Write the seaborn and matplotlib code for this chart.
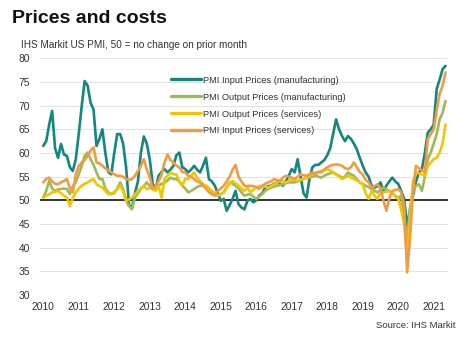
import numpy as np
import pandas as pd
import matplotlib
matplotlib.use("Agg")
import matplotlib.pyplot as plt
import seaborn as sns
from matplotlib.lines import Line2D

# ---- data (monthly, Jan 2010 - May 2021) ----
series_names = ["PMI Input Prices (manufacturing)",
                "PMI Output Prices (manufacturing)",
                "PMI Output Prices (services)",
                "PMI Input Prices (services)"]
series_colors = ["#13877D", "#9BBB59", "#F5C400", "#F39A44"]

mfg_input = [
    61.5, 62.5, 66, 68.9, 61, 59, 61.9, 59.7, 59.4, 57, 56.2, 58.7,
    64, 69.9, 75.2, 74.2, 70.6, 69.2, 61.5, 63, 65, 60, 56, 55.5,
    60, 64, 64, 62, 57, 49, 48.5, 51.5, 54, 60, 63.5, 62,
    58.7, 53.5, 52.4, 55.2, 56, 56.6, 55.9, 56.5, 57.3, 59.5, 60.1, 57,
    56.6, 55.9, 56.5, 57.3, 56.5, 55.9, 57.3, 59, 54.5, 54, 53.1, 51.5,
    49.9, 50.3, 47.8, 49, 50.3, 52, 49.2, 48.5, 48.1, 49.9, 50.3, 49.6,
    50, 51, 51.5, 52.7, 53, 53.1, 53.5, 53.8, 53.5, 53.1, 54, 55.2,
    56.6, 55.9, 58.7, 55, 51.5, 50.6, 54.5, 57, 57.5, 57.5, 58, 58.5,
    59.5, 61, 64, 67.1, 65, 63.6, 62.5, 63.6, 63, 62, 60.8, 59,
    57.3, 55.9, 55, 53.1, 52.7, 53, 53.8, 52, 53.1, 54, 54.8, 54,
    53.5, 52, 50.3, 44.6, 48, 51, 54, 55.9, 56.6, 60, 64.3, 65,
    66, 73.5, 75.5, 77.7, 78.4]

mfg_output = [
    50.6, 52, 54.1, 52.5, 52, 52.3, 52.4, 52.5, 52.4, 51.3, 53, 53.8,
    55.5, 57.3, 59.4, 60.1, 58.7, 57.5, 55.9, 54.5, 54.5, 52.5, 51.7, 51.3,
    51.5, 52.5, 53.8, 52.4, 50, 48.8, 48.1, 50.6, 51.5, 52.4, 53, 53.8,
    53, 52.4, 52.8, 53.1, 53.5, 53.8, 54.2, 54.8, 54.5, 54.5, 54, 53.1,
    52.5, 51.7, 52, 52.4, 52.8, 53.1, 53.1, 53.1, 52.5, 51.7, 51.3, 51,
    51.3, 51.7, 52.8, 53.8, 53.5, 53.1, 52.5, 51.7, 51, 51.2, 51.3, 50.8,
    50.3, 50.8, 51.3, 52, 52.4, 52.7, 52.9, 53.1, 53.2, 53.4, 53.6, 53.8,
    53.8, 53.8, 54, 54.3, 54.5, 54.7, 54.8, 55, 55.2, 55, 54.8, 55.2,
    55.5, 55.7, 55.9, 55.5, 55.2, 54.8, 55, 55.9, 55.5, 55.2, 54.5, 53.8,
    53.5, 53.1, 52.8, 52.4, 52, 51.7, 52.2, 52.7, 52.3, 52, 51.5, 51,
    50.5, 51, 46, 41.8, 48.5, 52, 53.1, 53.4, 52, 55, 58.7, 60.1,
    62, 64, 67.1, 68.5, 71]

svc_output = [
    50.6, 51, 51.3, 51.7, 51.8, 52, 51.5, 51, 50.6, 48.8, 50.5, 51.7,
    52.5, 53.1, 53.5, 53.8, 54.2, 54.5, 53.4, 53, 52.7, 52, 51.3, 51.5,
    51.7, 52.4, 53.1, 52, 49.9, 50.2, 50.6, 51.3, 52, 52.6, 53.1, 52.4,
    52.6, 52.4, 52, 53, 50.6, 54.5, 55.2, 55.9, 55.5, 55.5, 54, 53.1,
    54.5, 54.5, 55.2, 55.9, 54.8, 54.1, 53.5, 53.1, 52.5, 52, 51.5, 51,
    51.3, 51.7, 52.7, 53.5, 54.1, 53.6, 53.1, 52.5, 52, 52.7, 51.7, 52.2,
    52.7, 53, 53.1, 52.9, 52.7, 53, 53.4, 53.7, 54.1, 54, 53.8, 54.1,
    54.5, 54.3, 54.1, 54.3, 54.5, 54.8, 55.2, 55.5, 55.9, 56, 56.2, 56.4,
    56.6, 56.3, 55.9, 55.5, 55, 54.5, 54.8, 55.2, 54.8, 54.5, 54.2, 53.8,
    53.4, 51.5, 50.3, 52, 51, 50.3, 51.7, 51.7, 51.8, 52, 51.5, 50.8,
    50.3, 48, 45, 38, 46, 54, 55.9, 55.7, 55.5, 55.2, 57.3, 58,
    58.7, 59, 60.1, 62, 66]

svc_input = [
    53.8, 54.5, 54.8, 54, 53.5, 53.4, 53.8, 54.1, 54.5, 52.5, 51.7, 55.5,
    57.3, 58, 58.5, 59.4, 60.5, 61.2, 58, 57.8, 57.3, 56.8, 56.3, 55.9,
    55.5, 55.2, 55.2, 55, 54.5, 54.3, 54.5, 55.2, 56.2, 57.3, 58.7, 56.5,
    55, 52.4, 53.1, 54, 55.5, 58, 59.7, 58.5, 58, 57.3, 57, 56,
    55.9, 55.2, 55, 54.5, 54, 53.8, 53.1, 52.5, 51.7, 51.3, 51, 52,
    52.5, 53.1, 54, 55, 56.5, 57.5, 55, 54, 53.1, 53, 53.1, 53,
    52.8, 52.4, 53, 53.5, 53.8, 54, 54.5, 54.3, 54.1, 54.8, 55.2, 55,
    54.8, 54.5, 55, 55.5, 55.3, 55.2, 55.5, 55.9, 55.5, 56, 55.9, 56.5,
    57, 57.3, 57.5, 57.6, 57.5, 57.3, 56.8, 56.6, 57, 58, 57, 56,
    55.5, 54.3, 53.8, 52.7, 53, 53.4, 52.5, 50, 47.8, 50.5, 52, 52.2,
    52.4, 51.7, 49, 34.8, 42, 52, 57.3, 56.8, 56.3, 55.9, 63, 64,
    65, 69, 72.5, 74.2, 77]

year_ticks = list(range(2010, 2022))
y_ticks = [30, 35, 40, 45, 50, 55, 60, 65, 70, 75, 80]

# ---- build long-form table ----
n = len(mfg_input)
t = 2010 + np.arange(n) / 12.0
frames = []
for name, vals in zip(series_names, [mfg_input, mfg_output, svc_output, svc_input]):
    frames.append(pd.DataFrame({"t": t, "value": vals, "series": name}))
df = pd.concat(frames, ignore_index=True)

sns.set_theme(style="white")
plt.rcParams["font.family"] = ["Liberation Sans", "DejaVu Sans"]

fig = plt.figure(figsize=(4.7, 3.38), dpi=100)
ax = fig.add_axes([0.085, 0.127, 0.868, 0.7005])

for yv in y_ticks:
    if yv != 50:
        ax.axhline(yv, color="#e4e4e4", lw=0.8, zorder=0)
ax.axhline(50, color="#333333", lw=1.4, zorder=1)

sns.lineplot(data=df, x="t", y="value", hue="series", hue_order=series_names,
             palette=dict(zip(series_names, series_colors)), linewidth=1.9,
             legend=False, ax=ax, zorder=2)

ax.set_xlim(2009.907, 2021.40)
ax.set_ylim(30, 80)
ax.set_xticks(year_ticks)
ax.set_xticklabels([str(y) for y in year_ticks])
ax.set_yticks(y_ticks)
ax.set_xlabel("")
ax.set_ylabel("")
ax.tick_params(axis="both", length=0, labelsize=7.4, colors="#333333")
ax.tick_params(axis="y", pad=7)
ax.tick_params(axis="x", pad=5)
for s in ax.spines.values():
    s.set_visible(False)

handles = [Line2D([0], [0], color=c, lw=2.4) for c in series_colors]
leg = fig.legend(handles, series_names, loc="upper left",
                 bbox_to_anchor=(0.355, 0.787), frameon=False,
                 fontsize=6.7, handlelength=3.3, handletextpad=0.15,
                 labelspacing=0.85, borderaxespad=0)
for txt in leg.get_texts():
    txt.set_color("#333333")

fig.text(0.025, 0.945, "Prices and costs", fontsize=14, fontweight="bold",
         color="#111111", va="center", ha="left")
fig.text(0.045, 0.868, "IHS Markit US PMI, 50 = no change on prior month",
         fontsize=7.2, color="#333333", va="center", ha="left")
fig.text(0.970, 0.038, "Source: IHS Markit", fontsize=6.8, color="#333333",
         va="center", ha="right")

fig.savefig("out.png", dpi=100)
